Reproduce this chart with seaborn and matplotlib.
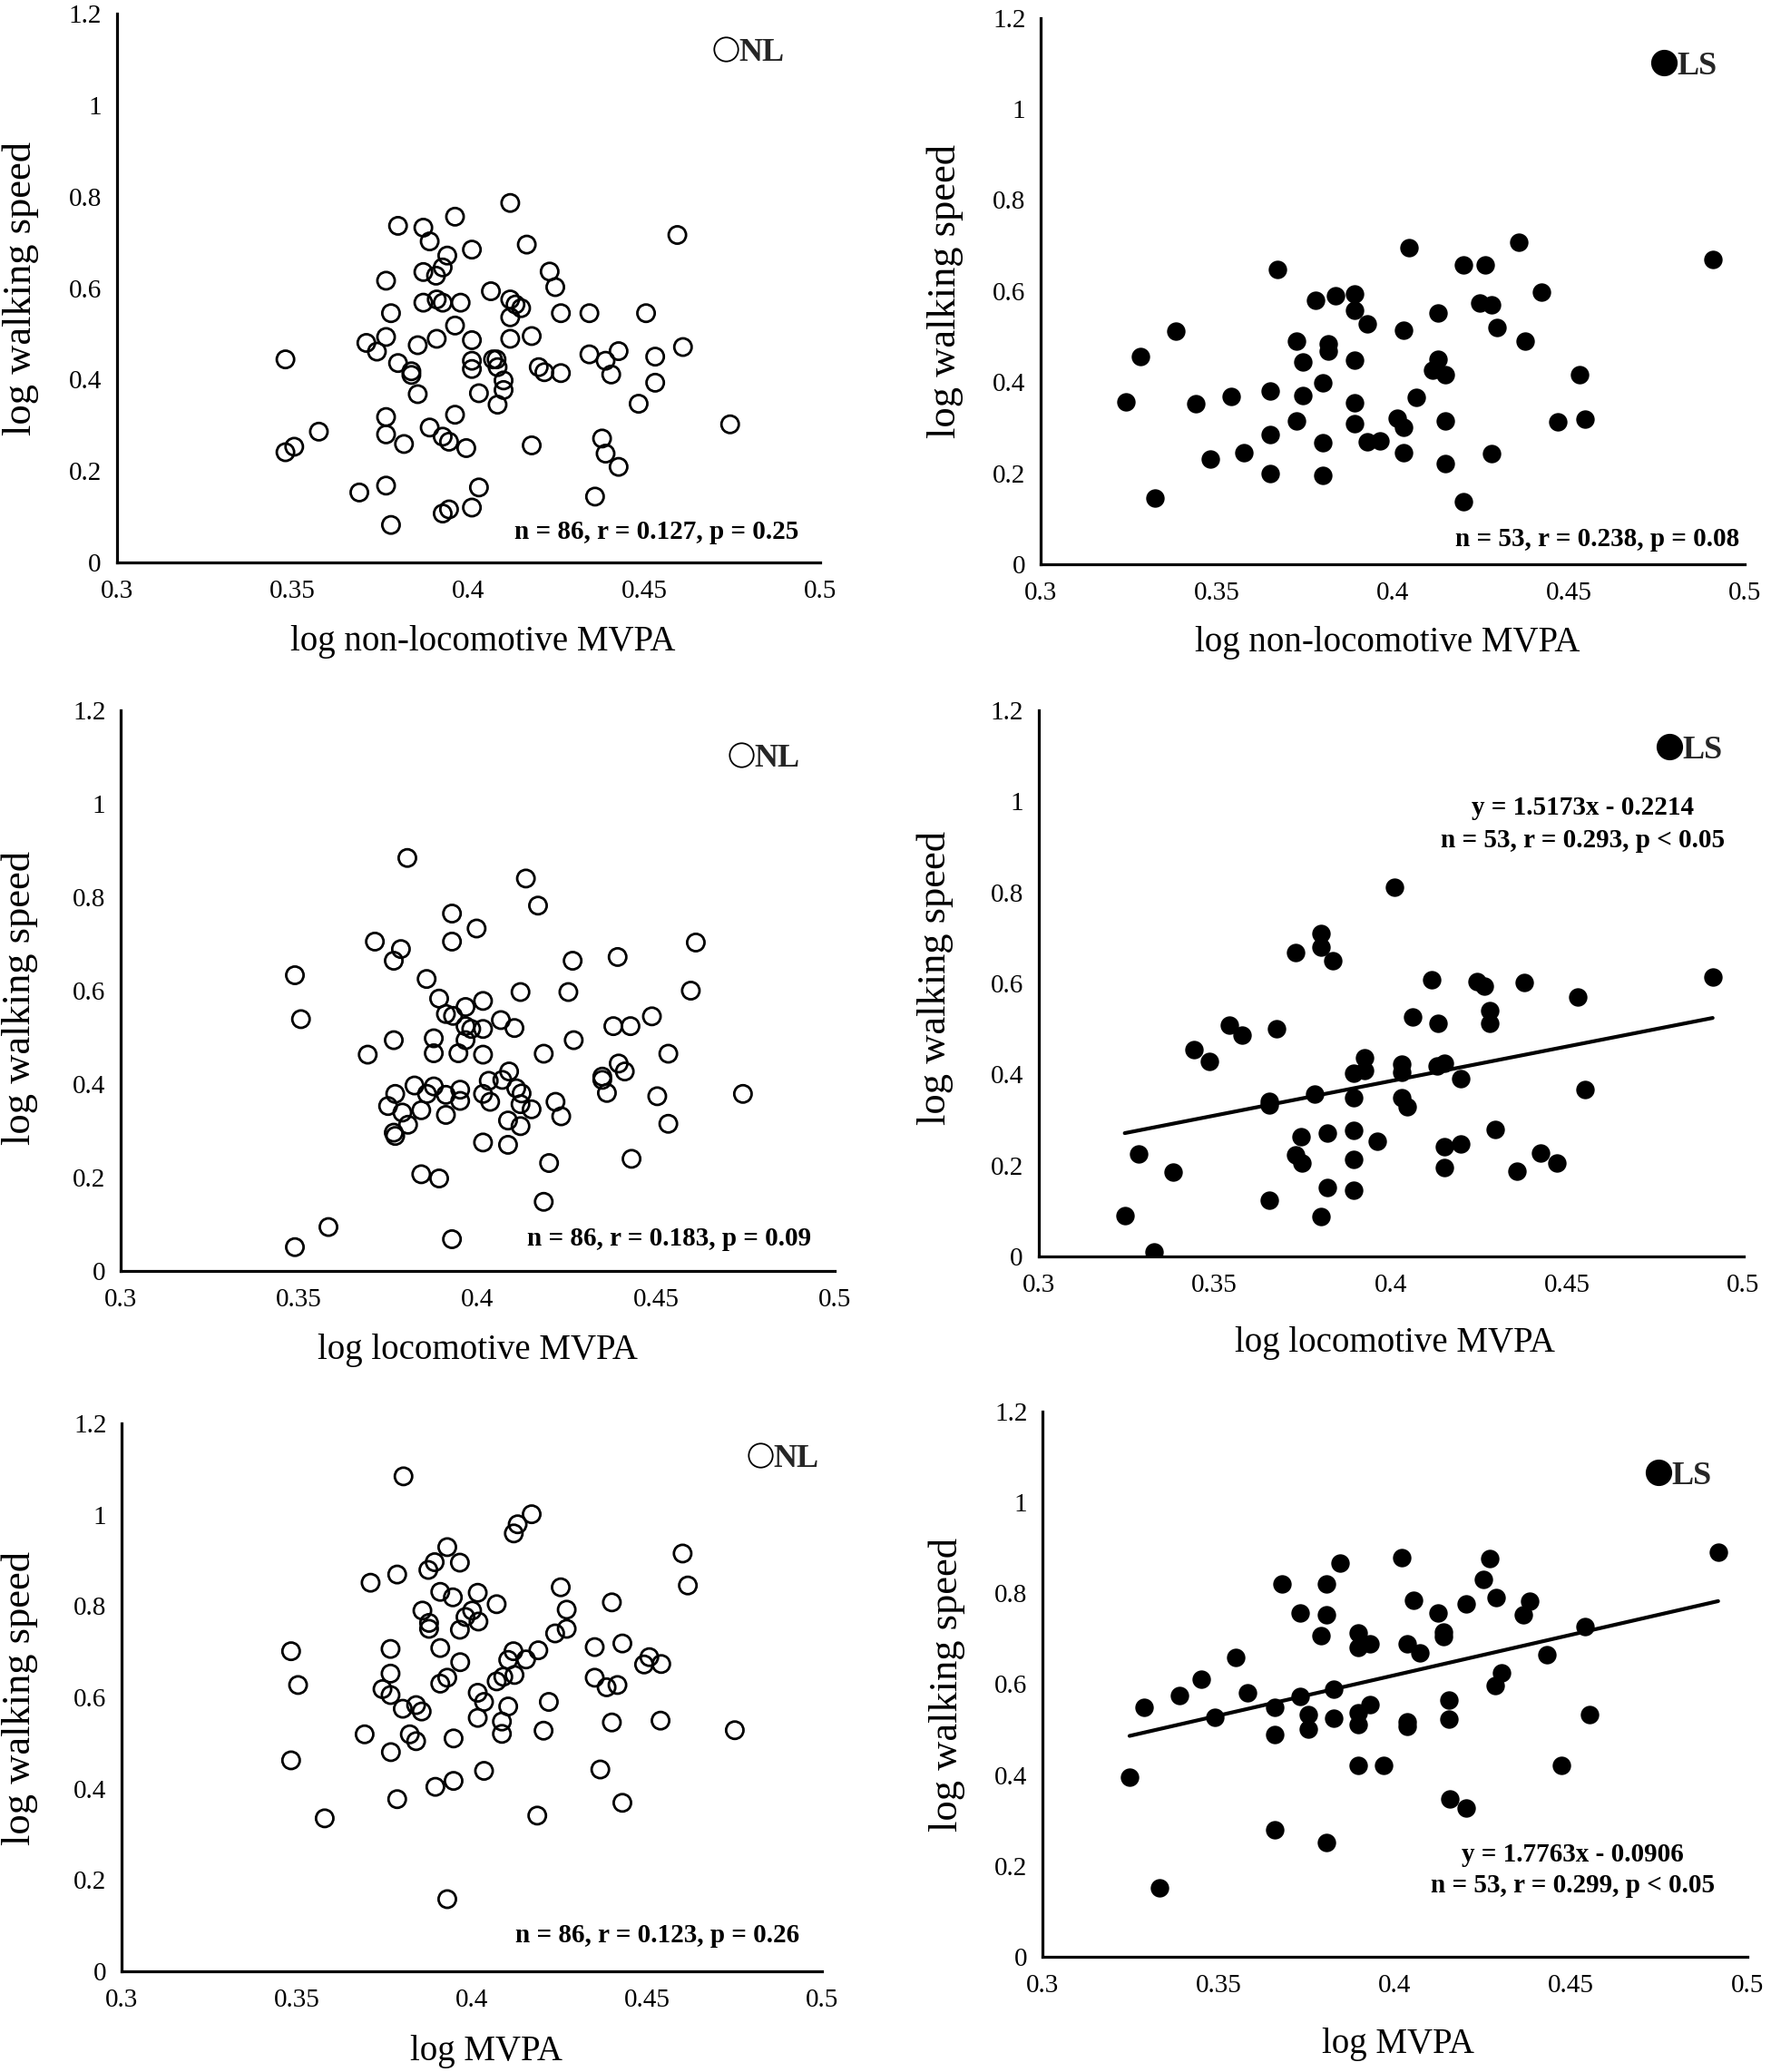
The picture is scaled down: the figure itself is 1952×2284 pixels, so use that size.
import matplotlib
matplotlib.use("Agg")
import matplotlib.pyplot as plt
from matplotlib.lines import Line2D
import seaborn as sns
import pandas as pd

# ---------------- data ----------------
x_ticks = [0.3, 0.35, 0.4, 0.45, 0.5]
x_tick_labels = ["0.3", "0.35", "0.4", "0.45", "0.5"]
y_ticks = [0, 0.2, 0.4, 0.6, 0.8, 1.0, 1.2]
y_tick_labels = ["0", "0.2", "0.4", "0.6", "0.8", "1", "1.2"]

y_label = "log walking speed"
x_labels = ["log non-locomotive MVPA", "log locomotive MVPA", "log MVPA"]
group_labels = ["NL", "LS"]

# NL group, non-locomotive MVPA
nl_nonloco_x = [0.348, 0.348, 0.3505, 0.3575, 0.369, 0.371, 0.374, 0.3766, 0.3766, 0.3766,
                0.3766, 0.3766, 0.378, 0.378, 0.380, 0.380, 0.3817, 0.3838, 0.3838, 0.3856,
                0.3856, 0.3872, 0.3872, 0.3872, 0.389, 0.389, 0.3908, 0.391, 0.391, 0.3927,
                0.3927, 0.3927, 0.3927, 0.394, 0.3945, 0.3945, 0.3962, 0.3962, 0.3962, 0.3978,
                0.3994, 0.401, 0.401, 0.401, 0.401, 0.401, 0.403, 0.403, 0.4064, 0.407,
                0.408, 0.4083, 0.4083, 0.410, 0.410, 0.4119, 0.4119, 0.4119, 0.4119, 0.4134,
                0.415, 0.4166, 0.418, 0.418, 0.420, 0.4216, 0.4231, 0.4247, 0.4263, 0.4263,
                0.4344, 0.4344, 0.436, 0.438, 0.439, 0.439, 0.4406, 0.4427, 0.4427, 0.4484,
                0.4505, 0.4531, 0.4531, 0.4594, 0.461, 0.4744]
nl_nonloco_y = [0.444, 0.241, 0.253, 0.286, 0.153, 0.480, 0.461, 0.616, 0.493, 0.318,
                0.280, 0.168, 0.545, 0.082, 0.736, 0.436, 0.259, 0.418, 0.410, 0.475,
                0.368, 0.732, 0.635, 0.568, 0.702, 0.295, 0.627, 0.489, 0.575, 0.568,
                0.645, 0.275, 0.107, 0.671, 0.264, 0.116, 0.756, 0.518, 0.323, 0.568,
                0.250, 0.684, 0.486, 0.441, 0.423, 0.120, 0.370, 0.164, 0.593, 0.444,
                0.444, 0.427, 0.345, 0.398, 0.377, 0.786, 0.575, 0.536, 0.489, 0.564,
                0.556, 0.695, 0.495, 0.256, 0.427, 0.416, 0.636, 0.602, 0.545, 0.414,
                0.545, 0.455, 0.144, 0.271, 0.441, 0.238, 0.411, 0.462, 0.209, 0.347,
                0.545, 0.450, 0.393, 0.716, 0.471, 0.302]

# LS group, non-locomotive MVPA
ls_nonloco_x = [0.3242, 0.3283, 0.3325, 0.3383, 0.3442, 0.3481, 0.3541, 0.3578, 0.3653, 0.3653,
                0.3653, 0.3673, 0.3728, 0.3728, 0.3744, 0.3744, 0.3781, 0.3802, 0.3802, 0.3802,
                0.3817, 0.3817, 0.3838, 0.3891, 0.3891, 0.3891, 0.3891, 0.3891, 0.3927, 0.3927,
                0.3963, 0.4013, 0.4031, 0.4031, 0.4031, 0.4047, 0.4067, 0.4114, 0.4130, 0.4130,
                0.4150, 0.4150, 0.4150, 0.4200, 0.4200, 0.4247, 0.4263, 0.4281, 0.4281, 0.4297,
                0.4359, 0.4375, 0.4422, 0.4469, 0.4531, 0.4547, 0.4911]
ls_nonloco_y = [0.356, 0.457, 0.145, 0.511, 0.352, 0.231, 0.368, 0.244, 0.380, 0.284,
                0.199, 0.647, 0.490, 0.315, 0.444, 0.370, 0.579, 0.398, 0.266, 0.196,
                0.483, 0.468, 0.590, 0.593, 0.557, 0.448, 0.354, 0.309, 0.527, 0.269,
                0.270, 0.321, 0.513, 0.301, 0.244, 0.696, 0.366, 0.426, 0.551, 0.451,
                0.417, 0.314, 0.222, 0.657, 0.138, 0.573, 0.657, 0.569, 0.243, 0.519,
                0.707, 0.490, 0.597, 0.312, 0.417, 0.319, 0.669]

# NL group, locomotive MVPA
nl_loco_x = [0.3488, 0.3505, 0.3488, 0.3582, 0.3692, 0.3712, 0.3749, 0.3765, 0.3785, 0.3765,
             0.3769, 0.3765, 0.3769, 0.3789, 0.3803, 0.3805, 0.3823, 0.3842, 0.3842, 0.3857,
             0.3858, 0.3877, 0.3877, 0.3877, 0.3892, 0.3892, 0.3911, 0.3911, 0.3911, 0.3928,
             0.3928, 0.3931, 0.3928, 0.3946, 0.3951, 0.3951, 0.3966, 0.3966, 0.3966, 0.3982,
             0.3997, 0.4015, 0.4015, 0.4015, 0.4015, 0.4015, 0.4031, 0.4035, 0.4065, 0.4069,
             0.4088, 0.4085, 0.4085, 0.4103, 0.4108, 0.4120, 0.4123, 0.4120, 0.4120, 0.4135,
             0.4151, 0.4169, 0.4185, 0.4185, 0.4200, 0.4218, 0.4234, 0.4254, 0.4266, 0.4269,
             0.4349, 0.4349, 0.4362, 0.4380, 0.4392, 0.4395, 0.4412, 0.4428, 0.4431, 0.4488,
             0.4503, 0.4534, 0.4534, 0.4597, 0.4611, 0.4743]
nl_loco_y = [0.633, 0.539, 0.051, 0.094, 0.463, 0.705, 0.353, 0.664, 0.689, 0.494,
             0.379, 0.296, 0.289, 0.339, 0.884, 0.313, 0.397, 0.207, 0.344, 0.625,
             0.379, 0.498, 0.466, 0.395, 0.583, 0.198, 0.550, 0.377, 0.334, 0.765,
             0.705, 0.546, 0.068, 0.466, 0.388, 0.364, 0.565, 0.524, 0.494, 0.518,
             0.733, 0.578, 0.518, 0.463, 0.379, 0.275, 0.407, 0.362, 0.537, 0.409,
             0.427, 0.322, 0.270, 0.520, 0.391, 0.597, 0.380, 0.357, 0.310, 0.840,
             0.346, 0.782, 0.465, 0.148, 0.231, 0.362, 0.331, 0.597, 0.664, 0.494,
             0.416, 0.409, 0.381, 0.524, 0.672, 0.444, 0.427, 0.524, 0.240, 0.545,
             0.374, 0.465, 0.315, 0.600, 0.703, 0.379]

# LS group, locomotive MVPA
ls_loco_x = [0.3245, 0.3284, 0.3327, 0.3383, 0.3441, 0.3484, 0.3542, 0.3578, 0.3655, 0.3655,
             0.3655, 0.3675, 0.3730, 0.3730, 0.3745, 0.3748, 0.3784, 0.3803, 0.3803, 0.3803,
             0.3819, 0.3819, 0.3836, 0.3894, 0.3894, 0.3894, 0.3894, 0.3894, 0.3925, 0.3925,
             0.3961, 0.4011, 0.4031, 0.4031, 0.4031, 0.4047, 0.4063, 0.4116, 0.4133, 0.4131,
             0.4152, 0.4152, 0.4152, 0.4198, 0.4198, 0.4245, 0.4266, 0.4280, 0.4280, 0.4297,
             0.4359, 0.4378, 0.4425, 0.4472, 0.4531, 0.4550, 0.4913]
ls_loco_y = [0.090, 0.225, 0.010, 0.186, 0.454, 0.428, 0.509, 0.486, 0.341, 0.333,
             0.124, 0.500, 0.667, 0.224, 0.264, 0.205, 0.357, 0.710, 0.679, 0.087,
             0.272, 0.152, 0.649, 0.403, 0.348, 0.277, 0.214, 0.145, 0.437, 0.408,
             0.253, 0.812, 0.423, 0.404, 0.348, 0.329, 0.527, 0.607, 0.512, 0.418,
             0.425, 0.242, 0.196, 0.391, 0.248, 0.604, 0.594, 0.541, 0.512, 0.280,
             0.188, 0.602, 0.227, 0.206, 0.570, 0.367, 0.614]

# NL group, total MVPA
nl_total_x = [0.3805, 0.4171, 0.4131, 0.4120, 0.3930, 0.3894, 0.3876, 0.3966, 0.3787, 0.3711,
              0.4602, 0.4617, 0.4254, 0.3910, 0.3946, 0.4017, 0.4071, 0.4400, 0.3859, 0.4271,
              0.4001, 0.3982, 0.4019, 0.3878, 0.3878, 0.3966, 0.4271, 0.4238, 0.4430, 0.4351,
              0.3484, 0.3768, 0.3910, 0.4190, 0.4119, 0.4104, 0.4155, 0.4507, 0.4541, 0.4492,
              0.3967, 0.3768, 0.4122, 0.4090, 0.4071, 0.3930, 0.3910, 0.3504, 0.4351, 0.4416,
              0.4385, 0.3745, 0.3768, 0.4017, 0.4035, 0.4220, 0.4104, 0.3803, 0.3841, 0.3857,
              0.4017, 0.4086, 0.4400, 0.4539, 0.4086, 0.4205, 0.4751, 0.3694, 0.3823, 0.3841,
              0.3948, 0.3769, 0.3484, 0.4035, 0.4367, 0.3948, 0.3896, 0.3787, 0.4430, 0.3580,
              0.4187, 0.3930]
nl_total_y = [1.084, 1.001, 0.979, 0.959, 0.929, 0.896, 0.879, 0.895, 0.869, 0.851,
              0.915, 0.845, 0.841, 0.831, 0.819, 0.829, 0.804, 0.808, 0.790, 0.792,
              0.790, 0.776, 0.766, 0.763, 0.750, 0.748, 0.750, 0.740, 0.718, 0.710,
              0.701, 0.706, 0.708, 0.703, 0.701, 0.682, 0.683, 0.688, 0.673, 0.672,
              0.677, 0.652, 0.649, 0.645, 0.635, 0.643, 0.630, 0.627, 0.643, 0.627,
              0.622, 0.618, 0.605, 0.610, 0.590, 0.590, 0.580, 0.575, 0.583, 0.569,
              0.555, 0.547, 0.545, 0.549, 0.520, 0.527, 0.528, 0.519, 0.519, 0.504,
              0.510, 0.480, 0.462, 0.439, 0.442, 0.417, 0.404, 0.377, 0.369, 0.335,
              0.341, 0.158]

# LS group, total MVPA
ls_total_x = [0.3247, 0.3289, 0.3331, 0.3388, 0.3450, 0.3489, 0.3547, 0.3583, 0.3659, 0.3659,
              0.3659, 0.3680, 0.3731, 0.3731, 0.3753, 0.3753, 0.3789, 0.3805, 0.3805, 0.3805,
              0.3825, 0.3825, 0.3844, 0.3895, 0.3895, 0.3895, 0.3895, 0.3895, 0.3930, 0.3930,
              0.3969, 0.4019, 0.4034, 0.4034, 0.4034, 0.4052, 0.4070, 0.4122, 0.4138, 0.4138,
              0.4153, 0.4153, 0.4156, 0.4203, 0.4203, 0.4250, 0.4269, 0.4284, 0.4286, 0.4302,
              0.4364, 0.4383, 0.4430, 0.4473, 0.4539, 0.4552, 0.4917]
ls_total_y = [0.396, 0.549, 0.152, 0.576, 0.610, 0.528, 0.658, 0.581, 0.549, 0.490,
              0.280, 0.821, 0.756, 0.573, 0.533, 0.502, 0.706, 0.821, 0.752, 0.252,
              0.590, 0.526, 0.866, 0.712, 0.680, 0.538, 0.511, 0.422, 0.689, 0.555,
              0.422, 0.878, 0.689, 0.518, 0.507, 0.785, 0.669, 0.756, 0.715, 0.704,
              0.566, 0.523, 0.348, 0.776, 0.328, 0.830, 0.876, 0.597, 0.790, 0.624,
              0.752, 0.782, 0.665, 0.422, 0.727, 0.533, 0.891]

# regression equations shown in the chart (slope, intercept)
ls_loco_fit = (1.5173, -0.2214)
ls_total_fit = (1.7763, -0.0906)

stats_texts = [
    ["n = 86, r = 0.127, p = 0.25"],
    ["n = 53, r = 0.238, p = 0.08"],
    ["n = 86, r = 0.183, p = 0.09"],
    ["y = 1.5173x - 0.2214", "n = 53, r = 0.293, p < 0.05"],
    ["n = 86, r = 0.123, p = 0.26"],
    ["y = 1.7763x - 0.0906", "n = 53, r = 0.299, p < 0.05"],
]

# ---------------- style ----------------
sns.set_theme(style="white")
plt.rcParams["font.family"] = ["Liberation Serif", "DejaVu Serif"]
plt.rcParams["axes.edgecolor"] = "black"

W, H = 1952, 2284
fig = plt.figure(figsize=(W / 100, H / 100), dpi=100)
fig.patch.set_facecolor("white")

# axes rectangles in pixels: (x of 0.3, x of 0.5, y px of 0, y px of 1.2)
rects_px = [
    (128.5, 904, 620, 15),
    (1147, 1923, 622, 19.5),
    (133, 920, 1401, 783),
    (1144.5, 1921.5, 1385, 783),
    (134, 906, 2173, 1569),
    (1149, 1926, 2157, 1556),
]

panels = [
    dict(x=nl_nonloco_x, y=nl_nonloco_y, group=0, xlabel=x_labels[0], fit=None),
    dict(x=ls_nonloco_x, y=ls_nonloco_y, group=1, xlabel=x_labels[0], fit=None),
    dict(x=nl_loco_x, y=nl_loco_y, group=0, xlabel=x_labels[1], fit=None),
    dict(x=ls_loco_x, y=ls_loco_y, group=1, xlabel=x_labels[1], fit=ls_loco_fit),
    dict(x=nl_total_x, y=nl_total_y, group=0, xlabel=x_labels[2], fit=None),
    dict(x=ls_total_x, y=ls_total_y, group=1, xlabel=x_labels[2], fit=ls_total_fit),
]

# layout details (axes fractions)
ylabel_pos = [(-0.137, 0.5), (-0.136, 0.5), (-0.141, 0.487), (-0.146, 0.51), (-0.145, 0.498), (-0.136, 0.5)]
xlabel_pos = [(0.52, -0.145), (0.493, -0.143), (0.50, -0.142), (0.506, -0.159), (0.52, -0.146), (0.505, -0.16)]
legend_pos = [(0.872, 0.929), (0.891, 0.911), (0.875, 0.914), (0.901, 0.927), (0.918, 0.935), (0.880, 0.882)]
stats_pos = [
    [(0.970, 0.056, "right")],
    [(0.992, 0.046, "right")],
    [(0.967, 0.058, "right")],
    [(0.772, 0.822, "center"), (0.772, 0.762, "center")],
    [(0.968, 0.066, "right")],
    [(0.752, 0.188, "center"), (0.752, 0.130, "center")],
]

for i, (p, r) in enumerate(zip(panels, rects_px)):
    x0, x1, y0, y1 = r
    ax = fig.add_axes([x0 / W, (H - y0) / H, (x1 - x0) / W, (y0 - y1) / H])
    ax.set_facecolor("white")
    df = pd.DataFrame({"x": p["x"], "y": p["y"]})
    if p["group"] == 0:
        sns.scatterplot(data=df, x="x", y="y", ax=ax, s=190, marker="o",
                        color="black", linewidth=2.0, zorder=3)
        coll = ax.collections[-1]
        coll.set_facecolor("none")
        coll.set_edgecolor("black")
        coll.set_linewidth(2.0)
    else:
        sns.scatterplot(data=df, x="x", y="y", ax=ax, s=215, marker="o",
                        color="black", edgecolor="black", linewidth=0, zorder=3)
    if p["fit"] is not None:
        slope, icpt = p["fit"]
        xmin, xmax = min(p["x"]), max(p["x"])
        line_df = pd.DataFrame({"x": [xmin, xmax],
                                "y": [slope * xmin + icpt, slope * xmax + icpt]})
        sns.lineplot(data=line_df, x="x", y="y", ax=ax, color="black",
                     linewidth=3.0, zorder=2)

    ax.set_xlim(0.3, 0.5)
    ax.set_ylim(0, 1.2)
    ax.set_xticks(x_ticks)
    ax.set_xticklabels(x_tick_labels)
    ax.set_yticks(y_ticks)
    ax.set_yticklabels(y_tick_labels)
    ax.tick_params(axis="both", length=0, labelsize=21, colors="black")
    ax.tick_params(axis="x", pad=14)
    ax.tick_params(axis="y", pad=12)
    ax.grid(False)
    for s in ["top", "right"]:
        ax.spines[s].set_visible(False)
    for s in ["left", "bottom"]:
        ax.spines[s].set_visible(True)
        ax.spines[s].set_color("black")
        ax.spines[s].set_linewidth(2.3)

    ax.set_ylabel(y_label, fontsize=32, color="black")
    ax.yaxis.label.set_va("center")
    ax.yaxis.set_label_coords(*ylabel_pos[i])
    ax.set_xlabel(p["xlabel"], fontsize=28, color="black")
    ax.xaxis.label.set_va("center")
    ax.xaxis.set_label_coords(*xlabel_pos[i])

    # group legend
    if p["group"] == 0:
        handle = Line2D([], [], linestyle="none", marker="o", markersize=19,
                        markerfacecolor="white", markeredgecolor="black", markeredgewidth=1.3)
    else:
        handle = Line2D([], [], linestyle="none", marker="o", markersize=20,
                        markerfacecolor="black", markeredgecolor="black")
    lx, ly = legend_pos[i]
    ax.legend([handle], [group_labels[p["group"]]], loc="center left",
              bbox_to_anchor=(lx - 0.022, ly), frameon=False,
              handlelength=0.7, handletextpad=0.05, borderpad=0,
              borderaxespad=0, prop={"size": 26, "weight": "bold"})

    for (tx, ty, ha), txt in zip(stats_pos[i], stats_texts[i]):
        ax.text(tx, ty, txt, transform=ax.transAxes, ha=ha, va="center",
                fontsize=21, fontweight="bold", color="black")

fig.savefig("out.png", dpi=100, facecolor="white")
